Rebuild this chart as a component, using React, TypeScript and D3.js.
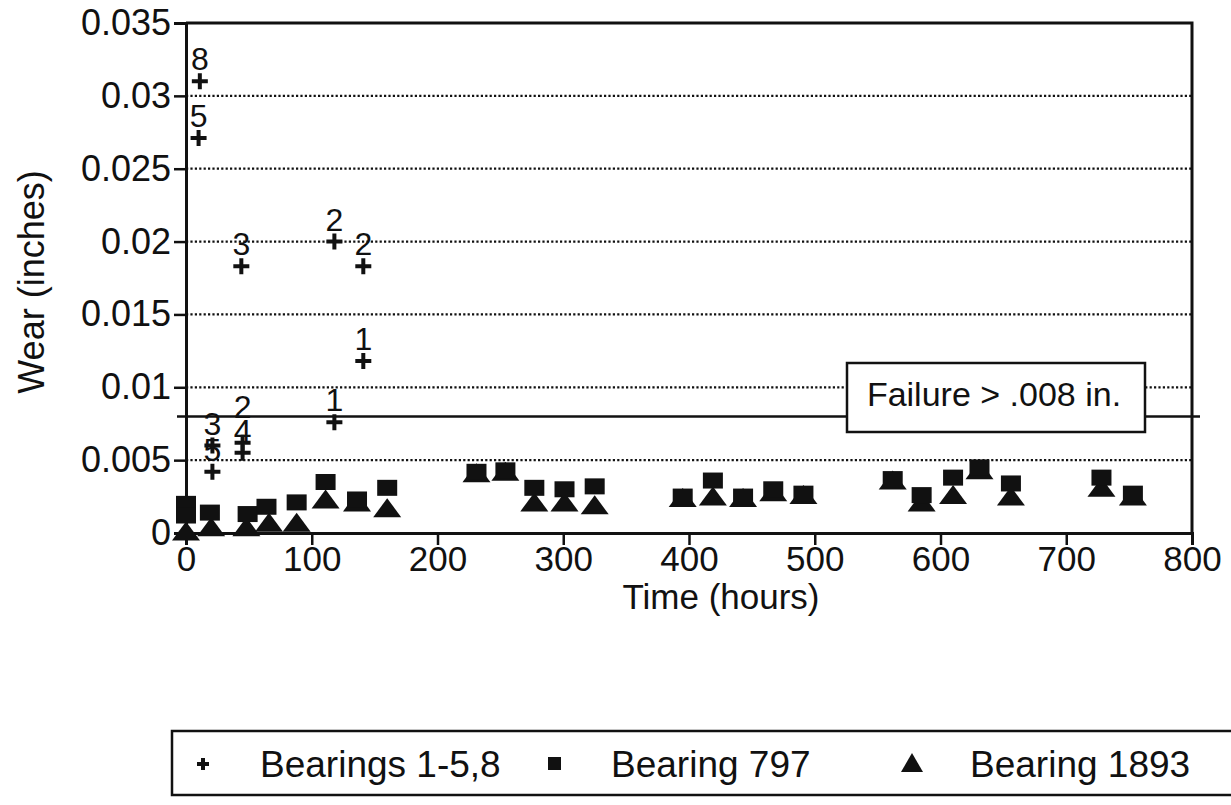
import * as d3 from "d3";
import { useEffect, useRef } from "react";

// Bearings 1-5,8 (plus markers with bearing number above)
const plusHours = [10, 11, 44, 118, 141, 141, 118, 21, 21, 45, 45];
const plusWear = [0.0271, 0.031, 0.0183, 0.02, 0.0183, 0.0118, 0.0076, 0.006, 0.0042, 0.0062, 0.0055];
const plusLabels = ["5", "8", "3", "2", "2", "1", "1", "3", "5", "2", "4"];

// Bearing 797 (squares)
const sqHours = [0, 0, 19, 49, 64, 88, 111, 136, 160, 231, 254, 277, 301, 325, 395, 419, 443, 467, 491, 562, 585, 610, 631, 656, 728, 753];
const sqWear = [0.002, 0.0012, 0.0014, 0.0013, 0.0018, 0.0021, 0.0035, 0.0023, 0.0031, 0.0042, 0.0043, 0.0031, 0.003, 0.0032, 0.0025, 0.0036, 0.0025, 0.003, 0.0027, 0.0037, 0.0026, 0.0038, 0.0045, 0.0034, 0.0038, 0.0027];

// Bearing 1893 (triangles)
const triHours = [0, 20, 48, 66, 88, 111, 136, 160, 231, 254, 277, 301, 325, 395, 419, 443, 467, 491, 562, 585, 610, 631, 656, 728, 753];
const triWear = [0.0001, 0.0004, 0.0004, 0.0007, 0.0007, 0.0023, 0.0021, 0.0017, 0.0041, 0.0042, 0.0021, 0.0021, 0.0019, 0.0024, 0.0025, 0.0024, 0.0028, 0.0026, 0.0036, 0.0021, 0.0026, 0.0043, 0.0025, 0.0031, 0.0025];

const xTicks = [0, 100, 200, 300, 400, 500, 600, 700, 800];
const yTicks = [0, 0.005, 0.01, 0.015, 0.02, 0.025, 0.03, 0.035];
const yTickLabels = ["0", "0.005", "0.01", "0.015", "0.02", "0.025", "0.03", "0.035"];
const failureLimit = 0.008;
const legendNames = ["Bearings 1-5,8", "Bearing 797", "Bearing 1893"];

const FONT = "'Liberation Sans', Arial, sans-serif";
const INK = "#111";

export default function App() {
  const ref = useRef(null);

  useEffect(() => {
    const svg = d3.select(ref.current);
    svg.selectAll("*").remove();

    const left = 186, right = 1192, top = 23, bottom = 533;
    const x = d3.scaleLinear().domain([0, 800]).range([left, right]);
    const y = d3.scaleLinear().domain([0, 0.035]).range([bottom, top]);

    svg.append("rect").attr("width", 1231).attr("height", 805).attr("fill", "#fff");

    // dotted grid
    svg.append("g")
      .selectAll("line")
      .data(yTicks.filter(t => t > 0 && t < 0.035))
      .enter()
      .append("line")
      .attr("x1", left).attr("x2", right)
      .attr("y1", d => y(d)).attr("y2", d => y(d))
      .attr("stroke", INK)
      .attr("stroke-width", 2.2)
      .attr("stroke-dasharray", "2.2 2.2");

    // y axis
    const yAxis = d3.axisLeft(y).tickValues(yTicks).tickSize(12).tickPadding(3)
      .tickFormat((d, i) => yTickLabels[i]);
    const gy = svg.append("g").attr("transform", `translate(${left},0)`).call(yAxis);
    gy.select(".domain").attr("stroke-width", 3).attr("stroke", INK);
    gy.selectAll(".tick line").attr("stroke-width", 2.5).attr("stroke", INK);
    gy.selectAll("text").attr("font-family", FONT).attr("font-size", 36).attr("fill", INK);

    // x axis
    const xAxis = d3.axisBottom(x).tickValues(xTicks).tickSize(12).tickPadding(1);
    const gx = svg.append("g").attr("transform", `translate(0,${bottom})`).call(xAxis);
    gx.select(".domain").attr("stroke-width", 3).attr("stroke", INK);
    gx.selectAll(".tick line").attr("stroke-width", 2.5).attr("stroke", INK);
    gx.selectAll("text").attr("font-family", FONT).attr("font-size", 35).attr("fill", INK);

    // frame top + right
    svg.append("path")
      .attr("d", `M${left},${top}H${right}V${bottom}`)
      .attr("fill", "none").attr("stroke", INK).attr("stroke-width", 3);

    // failure line
    svg.append("line")
      .attr("x1", left - 9).attr("x2", 1200)
      .attr("y1", y(failureLimit)).attr("y2", y(failureLimit))
      .attr("stroke", INK).attr("stroke-width", 2.5);

    // failure box
    svg.append("rect")
      .attr("x", 847).attr("y", 363).attr("width", 298).attr("height", 69)
      .attr("fill", "#fff").attr("stroke", INK).attr("stroke-width", 2.5);
    svg.append("text")
      .attr("x", 994).attr("y", 406).attr("text-anchor", "middle")
      .attr("font-family", FONT).attr("font-size", 34).attr("fill", INK)
      .text("Failure > .008 in.");

    // axis titles
    svg.append("text")
      .attr("x", 721).attr("y", 609).attr("text-anchor", "middle")
      .attr("font-family", FONT).attr("font-size", 35).attr("fill", INK)
      .text("Time (hours)");
    svg.append("text")
      .attr("transform", "translate(44,282) rotate(-90)")
      .attr("text-anchor", "middle")
      .attr("font-family", FONT).attr("font-size", 36).attr("fill", INK)
      .text("Wear (inches)");

    // triangles
    svg.append("g")
      .selectAll("path")
      .data(triHours.map((h, i) => [h, triWear[i]]))
      .enter()
      .append("path")
      .attr("d", "M0,-10L14,9L-14,9Z")
      .attr("transform", d => `translate(${x(d[0])},${y(d[1])})`)
      .attr("fill", INK);

    // squares
    svg.append("g")
      .selectAll("rect")
      .data(sqHours.map((h, i) => [h, sqWear[i]]))
      .enter()
      .append("rect")
      .attr("x", d => x(d[0]) - 10)
      .attr("y", d => y(d[1]) - 8)
      .attr("width", 20).attr("height", 16)
      .attr("fill", INK);

    // plus markers with labels
    const pts = plusHours.map((h, i) => ({ h, w: plusWear[i], l: plusLabels[i] }));
    // lift the label of an upper plus when another plus sits just below it
    const lift = (d) => pts.some(o => o !== d && o.h === d.h && y(o.w) - y(d.w) > 0 && y(o.w) - y(d.w) < 20) ? 14 : 0;
    const gp = svg.append("g");
    gp.selectAll("path")
      .data(pts)
      .enter()
      .append("path")
      .attr("d", "M-8,0H8M0,-8V8")
      .attr("transform", d => `translate(${x(d.h)},${y(d.w)})`)
      .attr("stroke", INK).attr("stroke-width", 4);
    gp.selectAll("text")
      .data(pts)
      .enter()
      .append("text")
      .attr("x", d => x(d.h))
      .attr("y", d => y(d.w) - 11 - lift(d))
      .attr("text-anchor", "middle")
      .attr("font-family", FONT).attr("font-size", 32).attr("fill", INK)
      .text(d => d.l);

    // legend
    svg.append("rect")
      .attr("x", 172).attr("y", 731).attr("width", 1080).attr("height", 64)
      .attr("fill", "none").attr("stroke", INK).attr("stroke-width", 2.5);
    const ly = 764;
    const lg = svg.append("g");
    lg.append("path").attr("d", `M${197},${ly}H${209}M${203},${ly - 6}V${ly + 6}`)
      .attr("stroke", INK).attr("stroke-width", 4);
    lg.append("rect").attr("x", 548).attr("y", ly - 7).attr("width", 13).attr("height", 13).attr("fill", INK);
    lg.append("path").attr("d", `M912,${ly - 11}L923,${ly + 8}L901,${ly + 8}Z`).attr("fill", INK);
    const lx = [260, 611, 970];
    lg.selectAll("text")
      .data(legendNames)
      .enter()
      .append("text")
      .attr("x", (d, i) => lx[i])
      .attr("y", ly + 13)
      .attr("font-family", FONT).attr("font-size", 37).attr("fill", INK)
      .text(d => d);
  }, []);

  return (
    <svg ref={ref} width={1231} height={805}
      style={{ position: "absolute", left: 0, top: 0, display: "block" }} />
  );
}
